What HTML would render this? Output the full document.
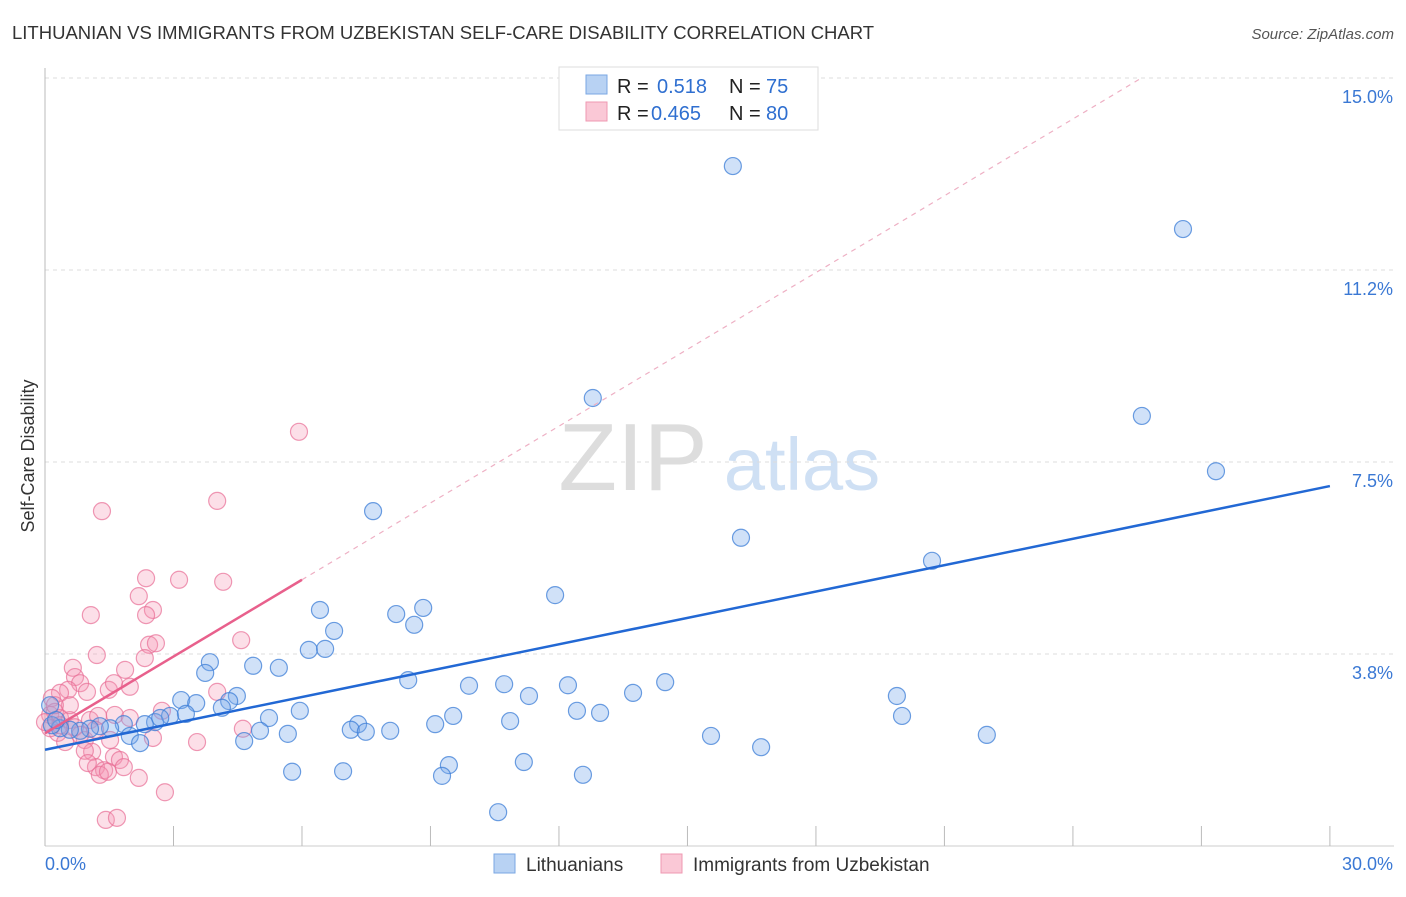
<!DOCTYPE html>
<html><head><meta charset="utf-8"><style>
body{margin:0;background:#fff;font-family:"Liberation Sans",sans-serif;}
svg text{font-family:"Liberation Sans",sans-serif;}
</style></head><body>
<svg id="chart" width="1406" height="892" xmlns="http://www.w3.org/2000/svg">
<text x="12" y="39" font-size="18.5" fill="#333">LITHUANIAN VS IMMIGRANTS FROM UZBEKISTAN SELF-CARE DISABILITY CORRELATION CHART</text>
<text x="1394" y="39" font-size="15" fill="#555" text-anchor="end" font-style="italic">Source: ZipAtlas.com</text>
<g>
<text x="633" y="490" font-size="96" fill="#ddd" text-anchor="middle" font-family="Liberation Serif">ZIP</text>
<text x="802" y="490" font-size="74" fill="#cfe0f4" text-anchor="middle">atlas</text>
</g>
<g id="grid"></g>
<g id="axes"></g>
<g id="marks"></g>
<g>
<rect x="559" y="67" width="259" height="63" fill="#fff" stroke="#ddd"/>
<rect x="586" y="75" width="21" height="19" fill="#b8d2f3" stroke="#7aa7e3"/>
<rect x="586" y="102" width="21" height="19" fill="#fac8d6" stroke="#ef98b2"/>
<text x="617" y="93" font-size="20" fill="#222">R =</text><text x="657" y="93" font-size="20" fill="#2f6fd0">0.518</text>
<text x="729" y="93" font-size="20" fill="#222">N =</text><text x="766" y="93" font-size="20" fill="#2f6fd0">75</text>
<text x="617" y="120" font-size="20" fill="#222">R =</text><text x="651" y="120" font-size="20" fill="#2f6fd0">0.465</text>
<text x="729" y="120" font-size="20" fill="#222">N =</text><text x="766" y="120" font-size="20" fill="#2f6fd0">80</text>
</g>
<g>
<rect x="494" y="854" width="21" height="19" fill="#b8d2f3" stroke="#7aa7e3"/>
<text x="526" y="871" font-size="19" fill="#333">Lithuanians</text>
<rect x="661" y="854" width="21" height="19" fill="#fac8d6" stroke="#ef98b2"/>
<text x="693" y="871" font-size="19" fill="#333">Immigrants from Uzbekistan</text>
</g>
<text transform="translate(34,456) rotate(-90)" font-size="18" fill="#333" text-anchor="middle">Self-Care Disability</text>
</svg>
<script>
const yTicks=[3.75,7.5,11.25,15];
const yTickLabels=["3.8%","7.5%","11.2%","15.0%"];
const xTicks=[0,3,6,9,12,15,18,21,24,27,30];
const blueX=[16.06,26.57,12.79,25.61,27.34,7.66,16.25,20.71,11.91,6.42,8.83,8.20,8.62,6.75,6.16,6.54,3.85,4.86,5.46,3.74,8.48,9.90,10.72,12.21,11.30,13.73,14.48,19.89,3.18,3.53,4.48,4.30,4.13,5.95,5.23,9.53,12.42,12.96,20.01,10.86,9.11,7.31,7.14,7.49,8.06,5.02,5.67,2.57,2.33,2.92,2.69,3.29,1.84,1.52,1.28,1.05,0.82,0.58,0.35,0.16,0.12,1.98,2.22,4.65,15.55,16.72,21.99,5.77,6.96,9.43,9.27,11.18,12.56,10.58,0.26];
const blueY=[13.28,12.05,8.75,8.40,7.32,6.54,6.02,5.57,4.90,4.61,4.65,4.53,4.32,4.20,3.83,3.85,3.59,3.52,3.48,3.38,3.24,3.13,3.16,3.14,2.93,2.99,3.20,2.93,2.85,2.79,2.93,2.83,2.70,2.64,2.50,2.54,2.64,2.60,2.54,2.44,2.38,2.38,2.27,2.23,2.25,2.25,2.19,2.42,2.38,2.54,2.50,2.58,2.38,2.30,2.34,2.29,2.25,2.27,2.30,2.36,2.75,2.15,2.01,2.05,2.15,1.93,2.17,1.45,1.46,1.58,1.37,1.64,1.39,0.66,2.46];
const pinkX=[5.93,4.02,1.33,2.36,3.13,4.16,2.19,2.52,2.36,1.07,2.43,2.59,2.33,1.21,4.58,0.65,0.70,0.82,0.54,0.35,0.16,0.98,1.49,1.87,1.98,1.61,4.02,2.73,0.12,0.23,0.35,0.58,1.05,1.24,1.63,1.98,2.52,0.30,0.47,0.93,3.55,4.62,1.10,0.93,1.61,1.75,1.19,1.38,1.28,1.47,1.84,2.19,2.80,1.42,1.68,0.35,0.12,0.0,0.70,0.82,0.58,1.17,0.23,1.52,1.00];
const pinkY=[8.09,6.74,6.54,5.23,5.20,5.16,4.88,4.61,4.51,4.51,3.93,3.96,3.67,3.73,4.02,3.48,3.30,3.18,3.05,2.99,2.89,3.01,3.05,3.44,3.11,3.18,3.01,2.64,2.56,2.62,2.50,2.46,2.46,2.54,2.56,2.50,2.11,2.21,2.03,2.07,2.03,2.29,1.84,1.86,1.74,1.68,1.54,1.48,1.39,1.45,1.54,1.33,1.05,0.51,0.55,2.36,2.30,2.42,2.32,2.17,2.75,2.27,2.75,2.07,1.62];
const blueTrend=[1.88,7.03];
const pinkTrend=[2.2,0.5];
const NS="http://www.w3.org/2000/svg";
const X=v=>45+v*42.83, Y=v=>846-v*51.2;
function mk(t,a,p){const e=document.createElementNS(NS,t);for(const k in a)e.setAttribute(k,a[k]);p.appendChild(e);return e;}
const grid=document.getElementById('grid'),axes=document.getElementById('axes'),marks=document.getElementById('marks');
yTicks.forEach((v,i)=>{
 const l=mk('line',{x1:45,x2:1394,y1:Y(v),y2:Y(v),stroke:'#ddd','stroke-dasharray':'4,4'},grid);
 
 
 const t=mk('text',{x:1393,y:Y(v)+25,'font-size':18,fill:'#3a78d4','text-anchor':'end'},axes);
 t.textContent=yTickLabels[i];
 
 
});
const axl=mk('line',{x1:45,x2:45,y1:68,y2:846,stroke:'#bbb'},axes);


const axb=mk('line',{x1:45,x2:1394,y1:846,y2:846,stroke:'#ccc'},axes);


xTicks.forEach(v=>{
 const l=mk('line',{x1:X(v),x2:X(v),y1:826,y2:846,stroke:'#bbb'},axes);
 
 
});
const xl0=mk('text',{x:45,y:870,'font-size':18,fill:'#3a78d4'},axes);xl0.textContent='0.0%';


const xl1=mk('text',{x:1393,y:870,'font-size':18,fill:'#3a78d4','text-anchor':'end'},axes);xl1.textContent='30.0%';


pinkX.forEach((x,i)=>{
 const c=mk('circle',{cx:X(x),cy:Y(pinkY[i]),r:8.5,fill:'rgba(244,150,180,0.3)',stroke:'rgba(232,110,150,0.7)','stroke-width':1.2},marks);
 
 
});
blueX.forEach((x,i)=>{
 const c=mk('circle',{cx:X(x),cy:Y(blueY[i]),r:8.5,fill:'rgba(120,170,235,0.35)',stroke:'rgba(60,125,215,0.75)','stroke-width':1.2},marks);
 
 
});
const bt=mk('line',{x1:X(0),y1:Y(blueTrend[0]),x2:X(30),y2:Y(blueTrend[1]),stroke:'#2268d4','stroke-width':2.5},marks);


const pEnd=(15-pinkTrend[0])/pinkTrend[1];
const pd=mk('line',{x1:X(6),y1:Y(pinkTrend[0]+pinkTrend[1]*6),x2:X(pEnd),y2:Y(15),stroke:'#eeb0c4','stroke-width':1.2,'stroke-dasharray':'5,5'},marks);


const pt=mk('line',{x1:X(0),y1:Y(pinkTrend[0]),x2:X(6),y2:Y(pinkTrend[0]+pinkTrend[1]*6),stroke:'#e8608c','stroke-width':2.5},marks);


</script>
</body></html>
